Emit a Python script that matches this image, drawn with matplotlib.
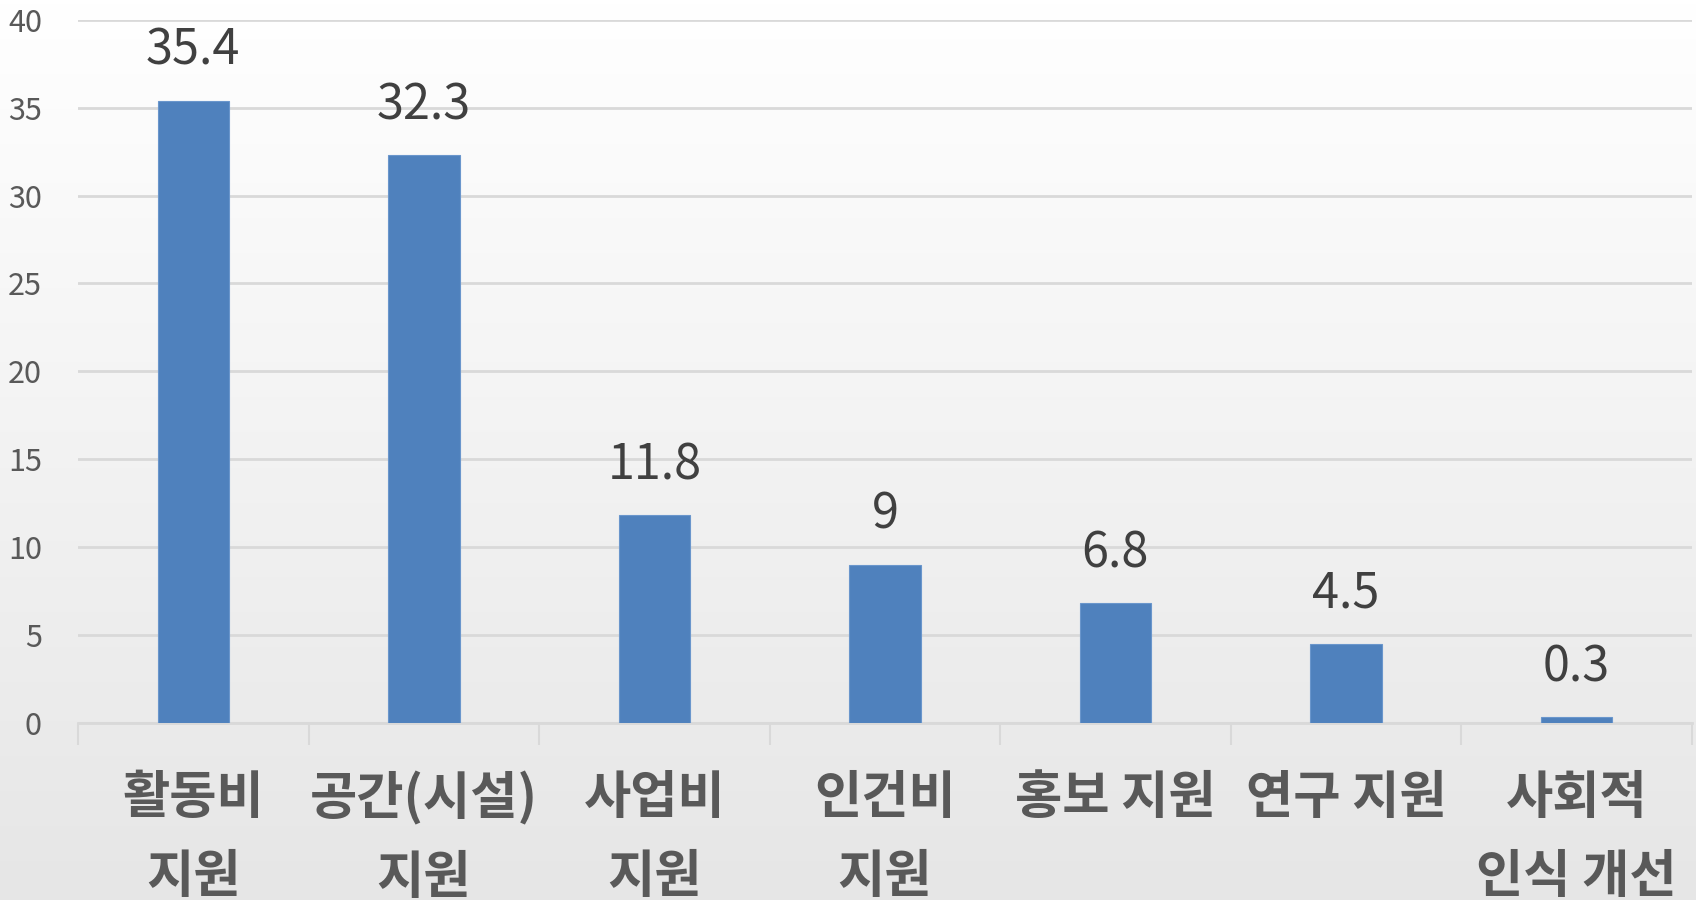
import matplotlib
matplotlib.use("Agg")
import matplotlib.pyplot as plt
import numpy as np

plt.rcParams['font.family'] = ['Noto Sans CJK KR', 'DejaVu Sans']

# 데이터
categories = ["활동비\n지원", "공간(시설)\n지원", "사업비\n지원", "인건비\n지원",
              "홍보 지원", "연구 지원", "사회적\n인식 개선"]
values = [35.4, 32.3, 11.8, 9, 6.8, 4.5, 0.3]
value_labels = ["35.4", "32.3", "11.8", "9", "6.8", "4.5", "0.3"]
yticks = [0, 5, 10, 15, 20, 25, 30, 35, 40]

fig = plt.figure(figsize=(16.96, 9), dpi=100)

# 배경 그라데이션
bg = fig.add_axes([0, 0, 1, 1], zorder=-10)
grad = np.linspace(0, 1, 256).reshape(-1, 1)
bg.imshow(grad, aspect='auto', cmap=matplotlib.colors.LinearSegmentedColormap.from_list(
    "bg", ["#ffffff", "#e6e6e6"]), extent=[0, 1, 0, 1], origin='upper')
bg.axis('off')

ax = fig.add_axes([0.046, 0.197, 0.9515, 0.781])
ax.patch.set_alpha(0)

x = np.arange(len(categories))
ax.bar(x, values, width=0.31, color="#4F81BD", edgecolor="#6a96cc", linewidth=0.8, zorder=3)

for xi, v, lab in zip(x, values, value_labels):
    ax.annotate(lab, (xi, v), xytext=(0, 18), textcoords='offset points',
                ha='center', va='bottom', fontsize=35, fontweight='medium', color="#404040")

ax.set_xlim(-0.5, len(categories) - 0.5)
ax.set_ylim(0, 40)
ax.set_yticks(yticks)
ax.tick_params(axis='y', length=0, labelsize=22, labelcolor="#595959", pad=26)
ax.grid(axis='y', color="#d9d9d9", linewidth=2, zorder=0)

ax.set_xticks(x)
ax.set_xticklabels(categories, fontsize=37, fontweight='bold', color="#595959",
                   linespacing=1.62)
ax.tick_params(axis='x', length=0, pad=35)
ax.set_xticks(np.arange(-0.5, len(categories)), minor=True)
ax.tick_params(axis='x', which='minor', length=16, width=1.5, color="#d9d9d9")

for s in ['left', 'right', 'top']:
    ax.spines[s].set_visible(False)
ax.spines['bottom'].set_color("#d9d9d9")
ax.spines['bottom'].set_linewidth(2)

fig.savefig("out.png", dpi=100)
